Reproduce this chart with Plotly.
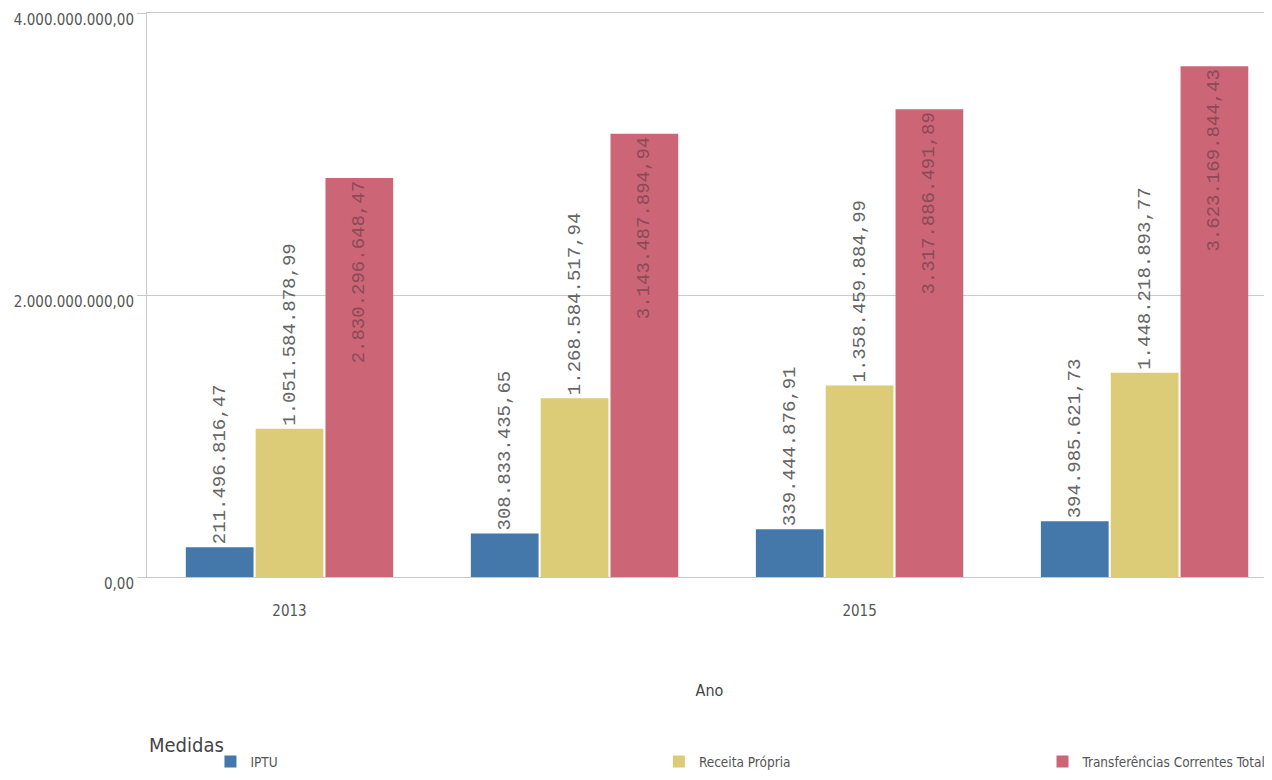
import plotly.graph_objects as go

years = ["2013", "2014", "2015", "2016"]
iptu = [211496816.47, 308833435.65, 339444876.91, 394985621.73]
receita = [1051584878.99, 1268584517.94, 1358459884.99, 1448218893.77]
transf = [2830296648.47, 3143487894.94, 3317886491.89, 3623169844.43]
series_names = ["IPTU", "Receita Própria", "Transferências Correntes Total"]
colors = ["#4477aa", "#ddcc77", "#cc6677"]
y_ticks = [0, 2000000000, 4000000000]
x_ticks = ["2013", "2015"]
legend_title = "Medidas"

narrow = "DejaVu Sans Condensed, Liberation Sans Narrow, sans-serif"
mono = "Liberation Mono, DejaVu Sans Mono, monospace"

fig = go.Figure()
for i, (name, vals) in enumerate(zip(series_names, [iptu, receita, transf])):
    inside = (i == 2)
    fig.add_trace(go.Bar(
        x=years, y=vals, name=name, showlegend=True,
        marker=dict(color=colors[i], line=dict(width=0)),
        texttemplate="%{y:,.2f}",
        textposition="inside" if inside else "outside",
        insidetextanchor="end",
        textangle=-90,
        textfont=dict(family=mono, size=19, color="#8b4a56" if inside else "#666666"),
        cliponaxis=False,
        legend=["legend", "legend2", "legend3"][i],
    ))

leg_font = dict(family=narrow, size=13.5, color="#555555")
leg_y = -0.30
fig.update_layout(
    width=1264, height=772,
    margin=dict(l=139, r=0, t=5, b=203, autoexpand=False),
    paper_bgcolor="white", plot_bgcolor="white",
    separators=",.",
    showlegend=True,
    barmode="group", bargap=0.265, bargroupgap=0.03,
    uniformtext=dict(minsize=19, mode="show"),
    font=dict(family=narrow, size=15, color="#555555"),
    xaxis=dict(
        type="category", range=[-0.5, 3.447], automargin=False,
        tickvals=x_ticks, ticktext=x_ticks,
        showgrid=False, showline=True, linecolor="#c8c8c8", linewidth=1, mirror=True,
        ticks="", ticklabelstandoff=20,
        tickfont=dict(family=narrow, size=15, color="#555555"),
        title=dict(text="Ano", font=dict(family=narrow, size=16, color="#444444"), standoff=65),
    ),
    yaxis=dict(
        range=[0, 4000000000], tickvals=y_ticks, tickformat=",.2f", automargin=False,
        ticklabeloverflow="allow", ticklabelshift=7,
        showgrid=True, gridcolor="#cccccc", gridwidth=1,
        showline=True, linecolor="#c8c8c8", linewidth=1,
        ticks="outside", ticklen=9, tickcolor="#c8c8c8",
        tickfont=dict(family=narrow, size=15, color="#555555"),
        zeroline=False,
    ),
    legend=dict(orientation="h", x=0.0564, y=leg_y, xanchor="left", yanchor="top",
                font=leg_font, bgcolor="rgba(0,0,0,0)"),
    legend2=dict(orientation="h", x=0.455, y=leg_y, xanchor="left", yanchor="top",
                 font=leg_font, bgcolor="rgba(0,0,0,0)"),
    legend3=dict(orientation="h", x=0.796, y=leg_y, xanchor="left", yanchor="top",
                 font=leg_font, bgcolor="rgba(0,0,0,0)"),
    annotations=[dict(text=legend_title, xref="paper", yref="paper", x=0.0, y=-0.298,
                      xanchor="left", yanchor="middle", showarrow=False,
                      font=dict(family=narrow, size=20, color="#444444"))],
)

fig.write_html("out.html")
